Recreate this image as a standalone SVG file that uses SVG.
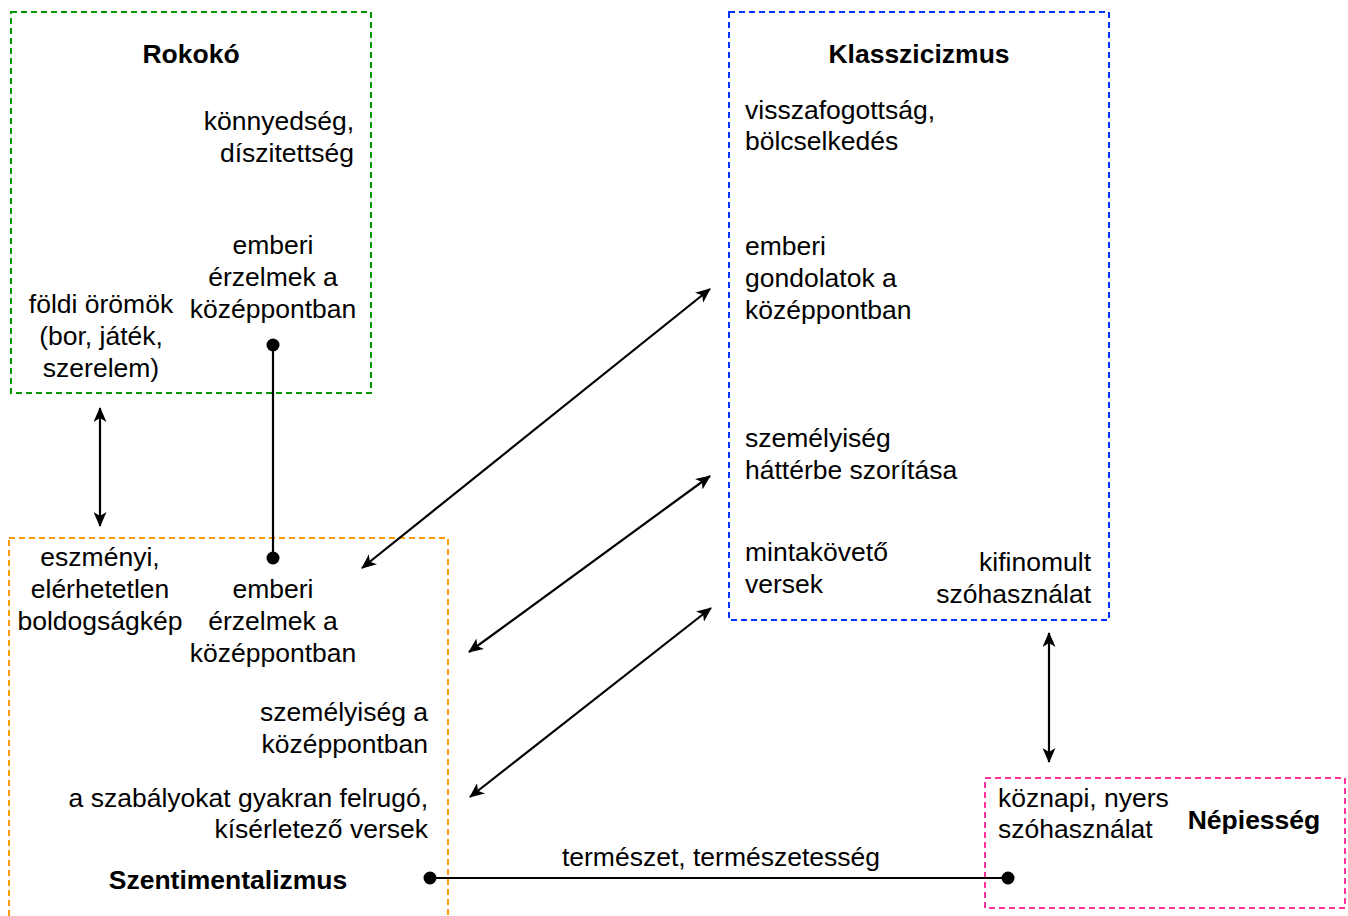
<svg xmlns="http://www.w3.org/2000/svg" width="1348" height="916" viewBox="0 0 1348 916">
<style>
text{font-family:"Liberation Sans",Arial,Helvetica,sans-serif;font-size:26.5px;fill:#000}
.b{font-weight:bold}
.m{text-anchor:middle}
.e{text-anchor:end}
.box{fill:none;stroke-width:2;stroke-dasharray:6 4}
.c{fill:none;stroke:#000;stroke-width:2.2}
</style>
<defs>
<marker id="ar" viewBox="0 0 15 13" refX="14" refY="6.5" markerWidth="15" markerHeight="13" markerUnits="userSpaceOnUse" orient="auto-start-reverse">
<path d="M0,0 L15,6.5 L0,13 L4,6.5 Z" fill="#000"/>
</marker>
<marker id="dot" viewBox="0 0 14 14" refX="7" refY="7" markerWidth="14" markerHeight="14" markerUnits="userSpaceOnUse">
<circle cx="7" cy="7" r="6.5" fill="#000"/>
</marker>
</defs>
<g id="rokoko">
<rect class="box" x="11" y="12" width="360" height="381" stroke="#009900"/>
<text class="b m" x="191" y="63">Rokokó</text>
<text class="e" x="354" y="130">könnyedség,</text>
<text class="e" x="354" y="162">díszitettség</text>
<text class="m" x="273" y="254">emberi</text>
<text class="m" x="273" y="286">érzelmek a</text>
<text class="m" x="273" y="318">középpontban</text>
<text class="m" x="101" y="313">földi örömök</text>
<text class="m" x="101" y="345">(bor, játék,</text>
<text class="m" x="101" y="377">szerelem)</text>
</g>
<g id="klasszicizmus">
<rect class="box" x="729" y="12" width="380" height="608" stroke="#0033FF"/>
<text class="b m" x="919" y="63">Klasszicizmus</text>
<text x="745" y="119">visszafogottság,</text>
<text x="745" y="150">bölcselkedés</text>
<text x="745" y="255">emberi</text>
<text x="745" y="287">gondolatok a</text>
<text x="745" y="319">középpontban</text>
<text x="745" y="447">személyiség</text>
<text x="745" y="479">háttérbe szorítása</text>
<text x="745" y="561">mintakövető</text>
<text x="745" y="593">versek</text>
<text class="e" x="1091" y="571">kifinomult</text>
<text class="e" x="1091" y="603">szóhasználat</text>
</g>
<g id="szentimentalizmus">
<rect class="box" x="9" y="538" width="439" height="400" stroke="#FF9900"/>
<text class="m" x="100" y="566">eszményi,</text>
<text class="m" x="100" y="598">elérhetetlen</text>
<text class="m" x="100" y="630">boldogságkép</text>
<text class="m" x="273" y="598">emberi</text>
<text class="m" x="273" y="630">érzelmek a</text>
<text class="m" x="273" y="662">középpontban</text>
<text class="e" x="428" y="721">személyiség a</text>
<text class="e" x="428" y="753">középpontban</text>
<text class="e" x="428" y="807">a szabályokat gyakran felrugó,</text>
<text class="e" x="428" y="838">kísérletező versek</text>
<text class="b m" x="228" y="889">Szentimentalizmus</text>
</g>
<g id="nepiesseg">
<rect class="box" x="985" y="778" width="360" height="130" stroke="#FF3399"/>
<text x="998" y="807">köznapi, nyers</text>
<text x="998" y="838">szóhasználat</text>
<text class="b m" x="1254" y="829">Népiesség</text>
</g>
<g id="connectors">
<line class="c" x1="100" y1="408" x2="100" y2="526" marker-start="url(#ar)" marker-end="url(#ar)"/>
<line class="c" x1="273" y1="345" x2="273" y2="558" marker-start="url(#dot)" marker-end="url(#dot)"/>
<line class="c" x1="362" y1="568" x2="710" y2="289" marker-start="url(#ar)" marker-end="url(#ar)"/>
<line class="c" x1="469" y1="652" x2="710" y2="476" marker-start="url(#ar)" marker-end="url(#ar)"/>
<line class="c" x1="470" y1="797" x2="711" y2="608" marker-start="url(#ar)" marker-end="url(#ar)"/>
<line class="c" x1="1049" y1="633" x2="1049" y2="762" marker-start="url(#ar)" marker-end="url(#ar)"/>
<line class="c" x1="430" y1="878" x2="1008" y2="878" marker-start="url(#dot)" marker-end="url(#dot)"/>
<text class="m" x="721" y="866">természet, természetesség</text>
</g>
</svg>
